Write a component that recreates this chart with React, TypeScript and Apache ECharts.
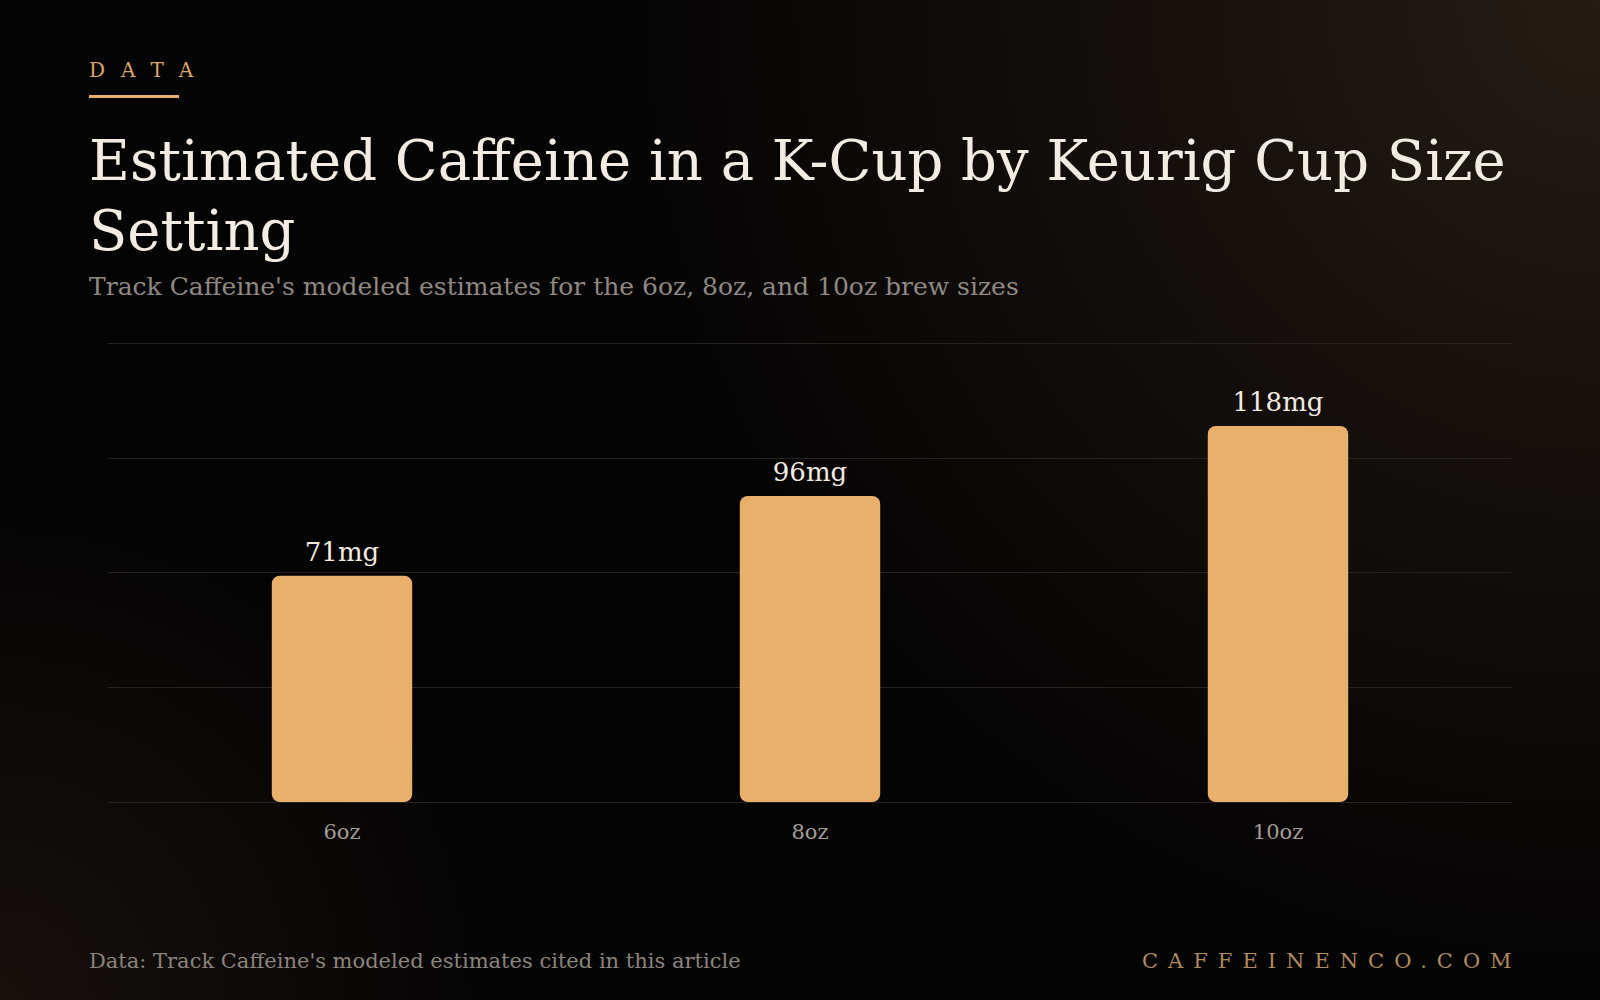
import React, { useEffect, useRef } from 'react'
import * as echarts from 'echarts'

// 杯量档位与估算咖啡因 (mg)
const cupSizes: string[] = ['6oz', '8oz', '10oz']
const caffeineMg: number[] = [71, 96, 118]
const axisMax = 144
const axisStep = 36

const kicker = 'DATA'
const titleText = 'Estimated Caffeine in a K-Cup by Keurig Cup Size Setting'
const subtitleText = "Track Caffeine's modeled estimates for the 6oz, 8oz, and 10oz brew sizes"
const sourceText = "Data: Track Caffeine's modeled estimates cited in this article"
const brandText = 'CAFFEINENCO.COM'

const SERIF = '"DejaVu Serif", serif'

const App: React.FC = () => {
    const chartRef = useRef<HTMLDivElement | null>(null)

    useEffect(() => {
        if (!chartRef.current) return
        const chart = echarts.init(chartRef.current, null, { renderer: 'svg' })

        chart.setOption({
            animation: false,
            backgroundColor: 'transparent',
            textStyle: { fontFamily: SERIF },
            grid: { left: 108, right: 88, top: 343, bottom: 198 },
            xAxis: {
                type: 'category',
                data: cupSizes,
                axisLine: { show: false },
                axisTick: { show: false },
                axisLabel: { color: '#a39d95', fontSize: 21, margin: 19, fontFamily: SERIF },
            },
            yAxis: {
                type: 'value',
                min: 0,
                max: axisMax,
                interval: axisStep,
                axisLabel: { show: false },
                axisLine: { show: false },
                axisTick: { show: false },
                splitLine: { lineStyle: { color: '#26221f', width: 1 } },
            },
            series: [
                {
                    type: 'bar',
                    data: caffeineMg,
                    barWidth: '30%',
                    itemStyle: { color: '#e8b06b', borderRadius: 8 },
                    label: {
                        show: true,
                        position: 'top',
                        distance: 11,
                        color: '#f2ebe0',
                        fontSize: 26,
                        fontFamily: SERIF,
                        formatter: '{c}mg',
                    },
                },
            ],
            graphic: [
                { type: 'rect', left: 89, top: 95, shape: { width: 90, height: 3 }, style: { fill: '#e8b06c' } },
                {
                    type: 'text',
                    x: 89,
                    y: 125,
                    style: {
                        text: titleText,
                        width: 1460,
                        overflow: 'break',
                        font: '56px ' + SERIF,
                        lineHeight: 70,
                        fill: '#f3ece2',
                        verticalAlign: 'top',
                    },
                },
                {
                    type: 'text',
                    x: 89,
                    y: 286,
                    style: { text: subtitleText, font: '25px ' + SERIF, fill: '#8f8982', verticalAlign: 'middle' },
                },
                {
                    type: 'text',
                    x: 89,
                    y: 961,
                    style: { text: sourceText, font: '21px ' + SERIF, fill: '#8a847c', verticalAlign: 'middle' },
                },
            ],
        })

        return () => {
            chart.dispose()
        }
    }, [])

    return (
        <div
            style={{
                position: 'fixed',
                left: 0,
                top: 0,
                width: 1600,
                height: 1000,
                overflow: 'hidden',
                background:
                    'radial-gradient(circle at 100% 0%, rgba(40,30,22,0.9) 0%, rgba(32,24,18,0.5) 28%, rgba(0,0,0,0) 52%),' +
                    'radial-gradient(circle at 0% 100%, rgba(30,22,17,0.7) 0%, rgba(0,0,0,0) 26%), #050404',
            }}
        >
            <div ref={chartRef} style={{ position: 'absolute', left: 0, top: 0, width: 1600, height: 1000 }} />
            <div
                style={{
                    position: 'absolute',
                    left: 89,
                    top: 60,
                    fontFamily: SERIF,
                    fontSize: 20,
                    lineHeight: '20px',
                    letterSpacing: 16,
                    color: '#dba66b',
                    whiteSpace: 'nowrap',
                }}
            >
                {kicker}
            </div>
            <div
                style={{
                    position: 'absolute',
                    left: 1142,
                    top: 951,
                    fontFamily: SERIF,
                    fontSize: 21,
                    lineHeight: '21px',
                    letterSpacing: 10,
                    color: '#b08b5e',
                    whiteSpace: 'nowrap',
                }}
            >
                {brandText}
            </div>
        </div>
    )
}

export default App
